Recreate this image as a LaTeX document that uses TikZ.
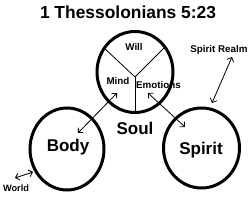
\documentclass[tikz,border=0pt]{standalone}
\usepackage{fontspec}
\setmainfont{Liberation Sans}
\usetikzlibrary{arrows.meta, shapes.geometric}

\begin{document}
\begin{tikzpicture}[x=1pt, y=-1pt,
    part/.style={draw, ellipse, line width=3pt, inner sep=0pt},
    lbl/.style={font=\fontsize{9.8}{10}\selectfont\bfseries, anchor=base, inner sep=0pt},
    big/.style={font=\fontsize{17}{18}\selectfont\bfseries, anchor=base, inner sep=0pt},
    link/.style={{Straight Barb[length=3.5pt,width=7pt]}-{Straight Barb[length=3.5pt,width=7pt]}, line width=0.8pt}]
                \useasboundingbox (0,0) rectangle (252,200);
                \node[big, font=\fontsize{17.4}{18}\selectfont\bfseries] (title) at (128,19) {1 Thessolonians 5:23};

                % Soul, Body and Spirit
                \node[part, minimum width=76pt, minimum height=81pt] (soul) at (135,72) {};
                \node[part, minimum width=74pt, minimum height=82pt] (body) at (67,149) {};
                \node[part, minimum width=76pt, minimum height=80pt] (spirit) at (201.5,148) {};

                % Parts of the soul
                \coordinate (hub) at (135,77);
                \draw[line width=0.8pt] (hub) -- (soul.142);
                \draw[line width=0.8pt] (hub) -- (soul.40);
                \draw[line width=0.8pt] (hub) -- (soul.south);
                \node[lbl] (will) at (134,51) {Will};
                \node[lbl] (mind) at (118,85) {Mind};
                \node[lbl] (emotions) at (158.5,89) {Emotions};

                \node[big] (soullbl) at (135,135) {Soul};
                \node[big] (bodylbl) at (68,152) {Body};
                \node[big] (spiritlbl) at (201,155) {Spirit};
                \node[lbl] (realm) at (219,53) {Spirit Realm};
                \node[lbl, font=\fontsize{9.2}{10}\selectfont\bfseries] (world) at (16,192) {World};

                % Double arrows
                \coordinate (mindtip) at (117,93);
                \coordinate (bodytip) at (78,133);
                \coordinate (emotip) at (148,93);
                \coordinate (spirittip) at (185,127);
                \coordinate (realmtip) at (232,57);
                \coordinate (spirittop) at (212,103);
                \coordinate (worldtip) at (15,178);
                \coordinate (bodyedge) at (33,172);
                \draw[link] (mindtip) -- (bodytip);
                \draw[link] (emotip) -- (spirittip);
                \draw[link] (realmtip) -- (spirittop);
                \draw[link] (worldtip) -- (bodyedge);
            \end{tikzpicture}
\end{document}
